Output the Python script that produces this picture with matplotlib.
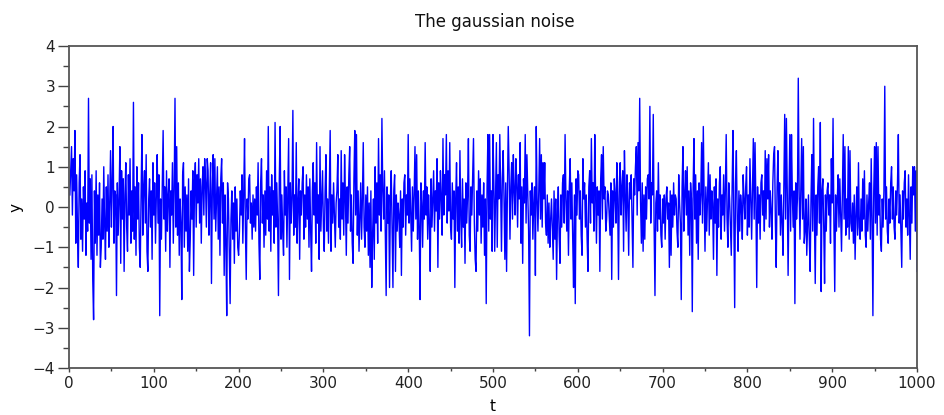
import numpy as np
import matplotlib.pyplot as plt
from matplotlib.ticker import MultipleLocator

# gaussian noise samples in blocks of 100
y_000 = [0.3, 0.9, 1.5, -0.2, 1.2, 0.4, 1.9, -0.9, 0.8, -0.5,
         -1.5, 0.6, 1.3, -0.8, 0.2, -1.1, 0.5, -0.3, 0.9, -1.2,
         0.1, -0.6, 2.7, -0.4, 0.7, -1.3, 0.8, -1.8, -2.8, 0.4,
         -0.9, 0.9, -1.2, 0.3, -0.7, 0.6, -1.5, -1.0, 0.2, -0.8,
         1.0, -0.4, -1.3, 0.5, -0.6, 0.8, -1.0, 0.1, 1.4, -0.5,
         0.6, 2.0, -0.9, 0.4, 0.3, -2.2, 0.6, -0.7, 0.2, 1.5,
         -1.4, 0.9, -0.3, 0.7, -1.6, 0.3, 1.1, -0.5, -1.1, 0.8,
         -0.2, 1.2, -0.9, 0.4, -0.6, 2.6, -0.8, 0.5, -1.2, 1.0,
         -0.3, 0.6, -1.0, -1.5, 0.3, 1.8, -0.7, 0.5, 0.9, -0.4,
         1.3, -1.1, -1.6, 0.2, 0.7, -0.5, 0.4, -1.3, 1.1, -0.2]
y_100 = [0.6, -0.9, 0.3, 1.3, -0.4, 0.8, -2.7, 0.2, -0.8, 0.5,
         1.9, -0.3, 0.5, -1.1, 0.9, -0.6, 0.3, 0.7, -1.5, 0.4,
         -0.2, 1.1, -0.9, 0.4, 2.7, -0.5, 1.5, -0.7, 0.6, -1.2,
         0.2, -0.4, -2.3, 0.8, 1.1, -1.0, 0.5, -0.6, 0.3, -1.1,
         0.7, -1.6, -0.8, 0.4, -0.3, 0.9, -1.7, 0.6, 1.1, -0.5,
         0.8, 0.1, 1.2, -0.4, 0.7, -0.9, 0.5, 1.0, -0.2, 1.2,
         0.6, -0.5, 1.2, 0.9, -0.7, 0.3, 1.1, -1.9, 0.4, 1.3,
         -0.3, 1.2, -0.6, 0.2, 1.0, -0.8, 0.5, -1.2, 0.7, 1.2,
         -0.4, 0.6, -1.7, 0.3, -0.9, -2.7, 0.6, 0.2, -1.1, -2.4,
         -0.3, 0.4, -0.8, 0.1, -1.4, 0.5, -0.6, 0.2, -1.0, -1.2]
y_200 = [-0.6, 0.4, -0.2, 0.8, -0.9, 0.3, 1.7, -0.5, -1.8, 0.2,
         -0.3, 0.7, 0.8, -0.4, 0.1, -0.8, 0.3, -0.5, 0.2, -0.6,
         0.5, -0.2, 1.1, -0.9, -1.8, 0.6, 1.2, -0.4, 0.3, -1.0,
         0.4, -0.7, 0.9, -0.3, 2.0, -0.6, 0.5, -1.1, 0.8, -0.2,
         0.4, -0.9, 2.1, -0.5, 0.6, -0.3, -2.2, 0.7, 2.0, -0.8,
         0.3, -0.6, -1.2, 0.9, -0.2, 0.5, -1.0, 0.4, 1.7, -1.8,
         0.6, -0.4, 0.2, 2.4, -0.7, 0.3, -0.5, 1.6, -0.9, 0.1,
         0.7, -1.3, 0.4, -0.2, 0.6, 1.0, -0.8, 0.3, -0.5, 0.8,
         -0.3, 0.5, -1.0, 0.7, -0.6, -1.6, 0.4, 1.1, -0.2, 0.6,
         -0.9, 1.6, -0.4, 0.3, -1.3, 1.5, -0.6, 0.2, 0.9, -0.5]
y_300 = [-1.1, 0.4, 1.3, -0.6, 0.2, -0.9, 0.5, 1.9, -1.1, 0.3,
         -0.4, 0.6, -0.2, -1.0, 0.1, 0.4, 1.3, -0.5, 0.2, -0.8,
         1.4, -0.3, 0.6, -0.7, 1.3, 0.2, -1.2, 0.5, -0.4, 0.8,
         1.5, -0.6, 0.3, -0.9, -1.4, 0.7, 1.9, -0.2, 1.8, -0.7,
         0.4, -1.1, -0.3, 0.6, -0.8, 0.2, 1.6, -0.5, -1.0, 0.3,
         -0.6, 0.5, -1.2, 0.1, -1.5, 0.4, -2.0, -0.7, 0.2, -1.3,
         1.0, -0.4, 0.6, -0.9, 1.7, -0.2, 0.8, -0.6, 2.2, 0.4,
         -0.3, 0.9, -0.7, -2.2, 0.5, -0.4, 0.3, -2.0, 0.2, 0.9,
         -0.5, -2.0, 0.4, 0.8, -1.6, 0.3, -0.6, 0.1, -0.2, -1.0,
         0.4, -1.7, 0.2, -0.5, 0.6, 0.8, -0.7, 0.3, -0.2, 1.8]
y_400 = [-0.4, 0.7, -0.2, -1.1, 0.5, -0.6, 0.3, 1.5, -0.3, 1.3,
         -0.8, 0.4, -0.5, -2.3, 0.6, 0.1, -1.0, 0.4, -0.3, 1.6,
         -0.2, 0.5, -0.8, 0.3, -0.4, -1.6, 0.7, -0.5, 0.2, 0.9,
         -0.6, 0.4, -0.1, 1.2, -1.5, 0.6, -0.3, 0.9, 0.2, -0.7,
         1.7, -0.2, 0.8, 0.3, 1.8, -0.4, 0.9, -0.1, 1.6, -0.5,
         -0.8, 0.6, -0.3, 0.4, -2.0, 0.2, 1.1, -0.6, 0.5, -0.9,
         1.4, -0.3, -1.0, 0.7, -0.5, 0.2, -1.4, 0.6, -0.4, 0.3,
         1.7, -0.7, -1.1, 0.5, -0.2, 0.8, 1.7, -0.4, -1.3, -1.6,
         0.4, -0.6, 0.9, -0.2, 0.7, -0.9, 0.3, -0.5, 0.6, -1.2,
         0.2, -2.4, 0.5, 1.8, -0.6, 1.8, -0.3, 0.4, -1.1, 1.8]
y_500 = [0.6, -1.1, 0.3, 1.6, -1.0, 0.8, 0.2, 1.8, 0.5, -1.1,
         0.7, 1.4, 0.2, -1.3, 0.6, -1.6, 0.4, 2.0, 0.9, -0.8,
         0.5, 1.1, -0.3, 1.3, 0.4, -0.2, 1.2, 0.6, -0.5, 0.8,
         0.2, 1.6, -0.9, 0.5, -1.4, 0.7, 0.1, 1.8, -0.4, 1.3,
         0.3, -0.6, -3.2, 0.4, -0.2, 0.6, -0.8, 0.1, 0.5, -1.7,
         2.0, 0.2, -0.6, 0.4, 1.7, -0.3, 1.3, -0.5, 1.1, 0.2,
         1.1, -0.4, -0.7, 0.3, -0.9, 0.1, -1.0, -0.3, 0.2, -0.6,
         -1.3, 0.4, -0.8, 0.2, -1.8, -0.2, 0.5, -0.7, -1.4, 0.3,
         -0.5, 0.6, 0.8, -0.4, 1.8, 0.2, -0.6, 0.4, -1.2, 0.5,
         1.2, -0.3, 0.6, -0.8, -2.0, 0.3, -2.4, 0.7, -0.2, 0.9]
y_600 = [0.8, -0.3, 0.4, -0.7, -1.2, 1.2, 0.2, 0.6, -0.5, 0.3,
         -0.8, -1.6, 0.5, 0.9, -0.4, 1.7, 0.1, 0.6, -0.6, 1.8,
         0.3, -0.9, 0.5, -0.2, 0.4, -1.6, 0.7, 1.3, -0.3, 1.5,
         0.2, 0.5, -0.6, -0.3, 0.4, 0.3, -0.2, -0.7, 0.6, -1.8,
         0.4, -0.5, 0.7, 0.3, -0.4, 1.1, 0.2, -1.8, 0.6, 1.1,
         -0.2, 0.5, 0.9, -1.1, 1.4, 0.3, -0.6, 0.8, 0.1, -1.2,
         0.6, 0.2, 0.8, -0.4, -1.5, 0.7, 0.3, 1.0, 1.5, -0.2,
         1.6, 0.4, 2.7, 0.1, -0.9, 0.6, -1.1, 0.3, -0.8, 0.5,
         -0.3, 0.7, 0.8, 0.2, 2.5, -0.4, 0.6, 0.3, 2.3, -0.5,
         -2.2, 0.1, 0.4, -0.6, 1.1, -0.3, 0.3, -0.7, -1.0, 0.2]
y_700 = [-0.4, 0.3, -0.8, 0.2, 0.5, -0.3, 0.1, -1.5, 0.4, -1.2,
         0.3, -0.5, 0.6, -0.2, 0.3, 0.2, -0.6, -1.0, 0.8, 0.1,
         -0.4, -2.3, 0.5, 1.5, -0.6, 0.3, 0.9, -0.2, 1.0, -0.7,
         0.4, -1.2, 0.6, 0.2, -2.6, 0.5, 1.7, -0.3, 0.8, -0.9,
         0.4, -1.3, 0.6, -0.2, 0.3, 1.6, -0.4, 2.0, 0.2, -1.1,
         0.5, -0.6, 0.3, 1.1, -0.7, 0.8, -0.3, 0.4, 0.1, -1.3,
         0.5, -0.4, 0.7, -1.7, 0.2, -0.5, 0.6, 1.0, -0.8, 0.3,
         -0.2, 0.8, -0.6, 0.4, 1.8, -0.3, -1.0, 0.6, 0.2, -0.5,
         -1.2, 0.5, 1.9, -0.4, -2.5, 0.6, 1.4, -0.3, -1.1, 0.4,
         -0.6, 0.3, 0.0, -0.8, 0.8, 0.2, -0.3, 0.5, 1.0, -0.7]
y_800 = [0.3, -0.5, 1.2, 0.2, -0.8, 0.4, 1.7, -0.3, 1.6, 0.1,
         -2.0, 0.5, -0.4, 0.3, -0.8, 0.6, 0.8, -0.2, 0.4, -0.6,
         1.4, -0.3, 1.2, 0.2, 1.3, -0.5, 0.4, -0.1, -0.8, 0.6,
         1.3, 1.5, -0.4, -1.5, 0.5, 1.4, -0.2, 0.6, -0.7, 0.3,
         -0.4, -1.2, 0.5, 2.3, -0.3, 2.2, 0.4, -1.7, 0.2, 1.8,
         -0.6, 1.8, 0.3, -0.5, 0.4, -2.4, 0.6, -0.3, 0.2, 3.2,
         0.4, -0.8, 0.5, 1.7, -0.3, 1.5, -0.9, -0.6, 0.2, -1.2,
         -0.4, 0.3, -0.8, -1.6, 0.2, 1.3, -0.6, 2.2, -0.2, -1.9,
         0.3, -0.7, 0.5, 1.0, -0.4, 2.1, -2.1, 0.4, 0.7, -0.5,
         -1.9, 0.3, -0.6, 0.4, 0.6, -0.2, 0.3, -0.9, 1.2, 0.1]
y_900 = [2.2, -0.4, -2.1, 0.3, -0.6, 0.2, 0.8, -0.5, 0.7, -0.2,
         -1.1, 0.4, 1.8, -0.3, 1.5, -0.7, 0.2, -0.5, 1.5, -0.8,
         1.4, -0.4, -0.6, 0.1, -0.9, 0.3, -1.3, -0.2, 0.5, -0.7,
         1.1, -0.5, -0.8, 0.2, -0.6, 0.7, -0.3, 0.9, -0.7, -1.0,
         0.3, -0.6, 0.1, 0.6, -0.8, 1.2, -0.3, -2.7, 0.4, 1.5,
         -0.4, 1.6, -0.7, 1.5, -0.2, 0.3, -0.8, -1.1, 0.2, -0.5,
         0.4, 3.0, -0.3, 0.5, -0.6, -0.9, 0.2, -0.4, 0.6, 1.0,
         -0.3, 0.5, -0.5, -0.8, 0.4, -0.2, 0.6, 1.8, -0.4, 0.3,
         -0.6, -1.5, 0.4, -0.3, 0.6, 0.9, -0.5, 0.2, -0.7, 0.8,
         -0.2, -1.3, 0.5, -0.4, 1.0, 0.3, 1.0, -0.6, 0.9, -1.6]

noise = np.array(y_000 + y_100 + y_200 + y_300 + y_400
                 + y_500 + y_600 + y_700 + y_800 + y_900)
t = np.arange(1, len(noise) + 1)

fig = plt.figure(figsize=(9.45, 4.15), dpi=100)
ax = fig.add_axes([69 / 945, 47 / 415, 848 / 945, 322 / 415])
ax.plot(t, noise, color='#0000ff', lw=1.0)

ax.set_xlim(0, 1000)
ax.set_ylim(-4, 4)
ax.xaxis.set_major_locator(MultipleLocator(100))
ax.xaxis.set_minor_locator(MultipleLocator(50))
ax.yaxis.set_major_locator(MultipleLocator(1))
ax.yaxis.set_minor_locator(MultipleLocator(0.5))
ax.tick_params(axis='x', which='major', length=3, width=1, pad=3,
               labelsize=11, color='#444444', labelcolor='#222222')
ax.tick_params(axis='x', which='minor', length=2, width=1, color='#444444')
ax.tick_params(axis='y', which='major', length=8, width=1, pad=2,
               labelsize=11, color='#444444', labelcolor='#222222')
ax.tick_params(axis='y', which='minor', length=4.5, width=1, color='#444444')
for s in ax.spines.values():
    s.set_color('#555555')
    s.set_linewidth(1.3)

fig.text(495 / 945, 1 - 22 / 415, 'The gaussian noise', ha='center', va='center',
         fontsize=12, color='#111111')
fig.text(493 / 945, 1 - 406 / 415, 't', ha='center', va='center', fontsize=11)
fig.text(16 / 945, 1 - 207 / 415, 'y', ha='center', va='center', fontsize=11, rotation=90)

fig.savefig('out.png', dpi=100)
